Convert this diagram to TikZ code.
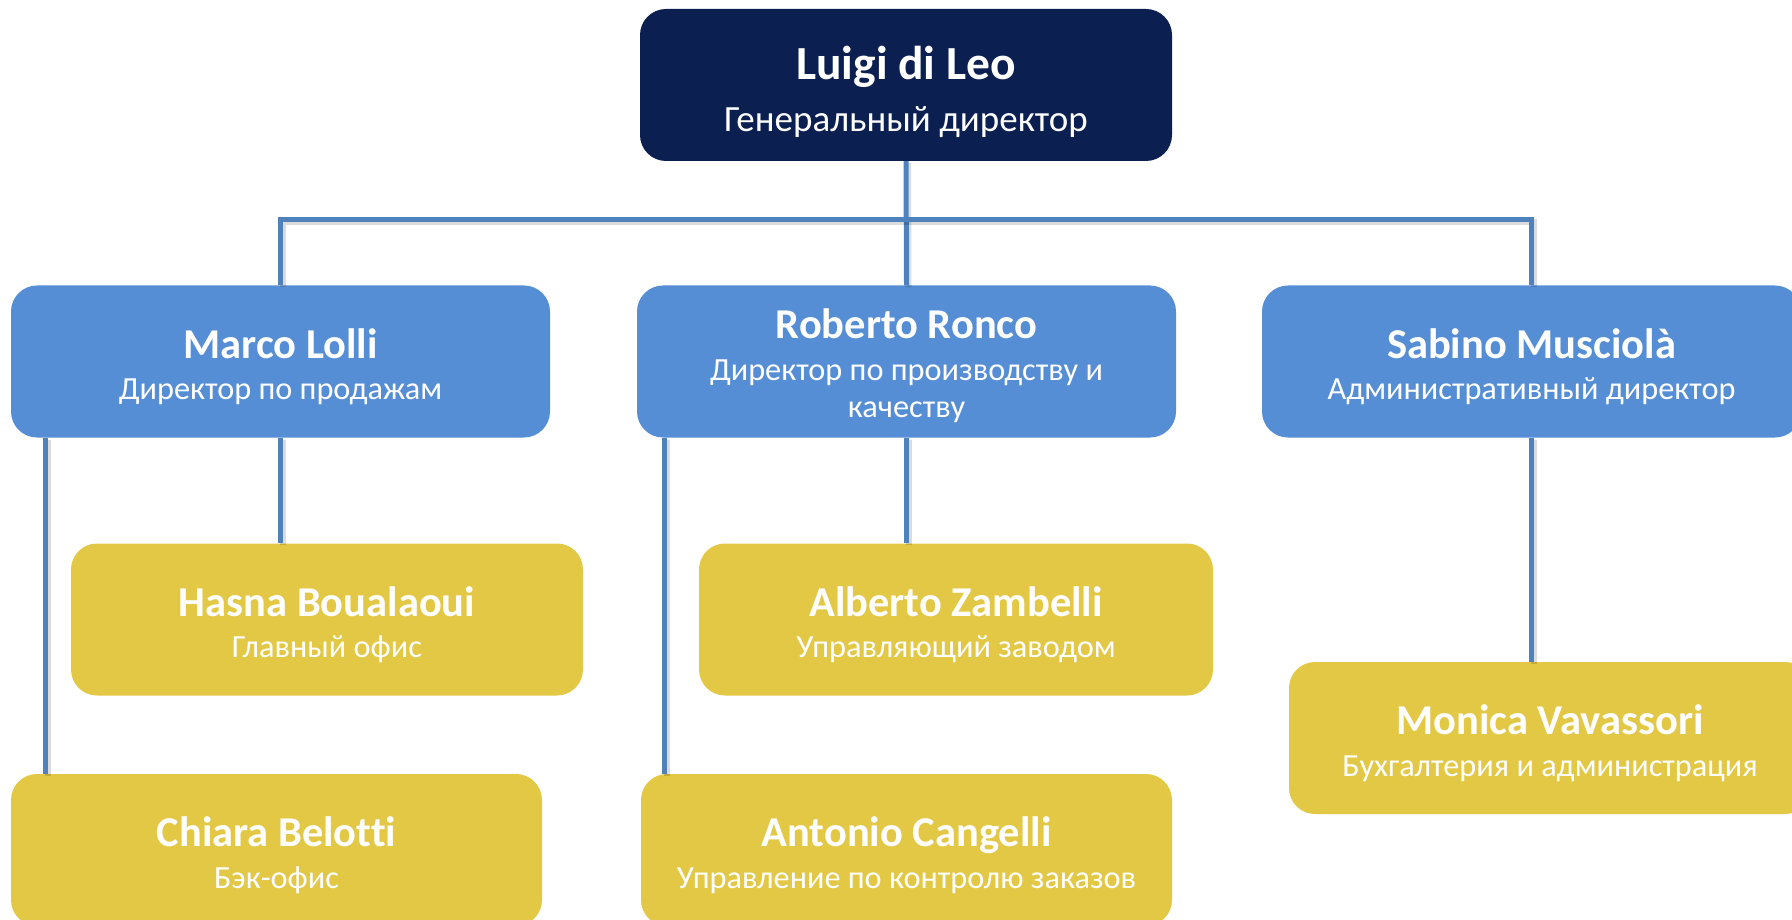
\documentclass[tikz,border=0pt]{standalone}
\usepackage{fontspec}
\setmainfont{Carlito}[Ligatures=NoCommon]
\usetikzlibrary{calc}
\definecolor{navy}{HTML}{0B1F51}
\definecolor{mblue}{HTML}{558ED5}
\definecolor{gold}{HTML}{E3C845}
\definecolor{conn}{HTML}{4F81BD}
\newcommand\pname[1]{{\fontsize{42.5}{37}\selectfont\bfseries #1}\\[4.5pt]}
\newcommand\tname[1]{{\fontsize{47.5}{40}\selectfont\bfseries #1}\\[9.5pt]}
\begin{document}
\begin{tikzpicture}[x=1pt,y=-1pt,
  box/.style={rounded corners=26pt, inner sep=0pt, minimum height=152pt},
  topbox/.style={box, fill=navy, minimum width=532pt},
  midbox/.style={box, fill=mblue, minimum width=539pt},
  lowbox/.style={box, fill=gold},
  txt/.style={text=white, align=center, inner sep=0pt, font=\fontsize{32.3}{37}\selectfont},
  toptxt/.style={txt, font=\fontsize{37}{42}\selectfont},
  link/.style={draw=conn, line width=5pt,
    preaction={draw=black, draw opacity=0.14, line width=6pt, transform canvas={shift={(2,2)}}}},
]
\useasboundingbox (0,0) rectangle (1792,920);
\coordinate (bus) at (906,220);
\node[topbox] (luigi) at (906,85) {};
\node[midbox] (marco) at (280.5,361.5) {};
\node[midbox] (roberto) at (906.5,361.5) {};
\node[midbox] (sabino) at (1531.5,361.5) {};
\node[lowbox, minimum width=512pt] (hasna) at (327,619.5) {};
\node[lowbox, minimum width=514pt] (alberto) at (956,619.5) {};
\node[lowbox, minimum width=531pt] (chiara) at (276.5,850) {};
\node[lowbox, minimum width=531pt] (antonio) at (906.5,850) {};
\node[lowbox, minimum width=522pt] (monica) at (1550,738) {};
\coordinate (mc) at ($(marco.south west)+(35,0)$);
\coordinate (rc) at ($(roberto.south west)+(28,0)$);
\draw[link] (luigi.south) -- (roberto.north);
\draw[link] (marco.north) -- (marco.north |- bus) -- (sabino.north |- bus) -- (sabino.north);
\draw[link] (marco.south) -- (marco.south |- hasna.north);
\draw[link] (mc) -- (mc |- chiara.north);
\draw[link] (roberto.south) -- (roberto.south |- alberto.north);
\draw[link] (rc) -- (rc |- antonio.north);
\draw[link] (sabino.south) -- (sabino.south |- monica.north);
\node[toptxt] (luigiT) at ($(luigi.center)+(0,7)$) {\tname{Luigi di Leo}Генеральный директор};
\node[txt] (marcoT) at ($(marco.center)+(0,5)$) {\pname{Marco Lolli}Директор по продажам};
\node[txt] (robertoT) at ($(roberto.center)+(0,4)$) {\pname{Roberto Ronco}Директор по производству и\\качеству};
\node[txt] (sabinoT) at ($(sabino.center)+(0,5)$) {\pname{Sabino Musciolà}Административный директор};
\node[txt] (hasnaT) at ($(hasna.center)+(0,5)$) {\pname{Hasna Boualaoui}Главный офис};
\node[txt] (albertoT) at ($(alberto.center)+(0,5)$) {\pname{Alberto Zambelli}Управляющий заводом};
\node[txt] (chiaraT) at ($(chiara.center)+(0,5)$) {\pname{Chiara Belotti}Бэк-офис};
\node[txt] (antonioT) at ($(antonio.center)+(0,5)$) {\pname{Antonio Cangelli}Управление по контролю заказов};
\node[txt] (monicaT) at ($(monica.center)+(0,5)$) {\pname{Monica Vavassori}Бухгалтерия и администрация};
\end{tikzpicture}
\end{document}
